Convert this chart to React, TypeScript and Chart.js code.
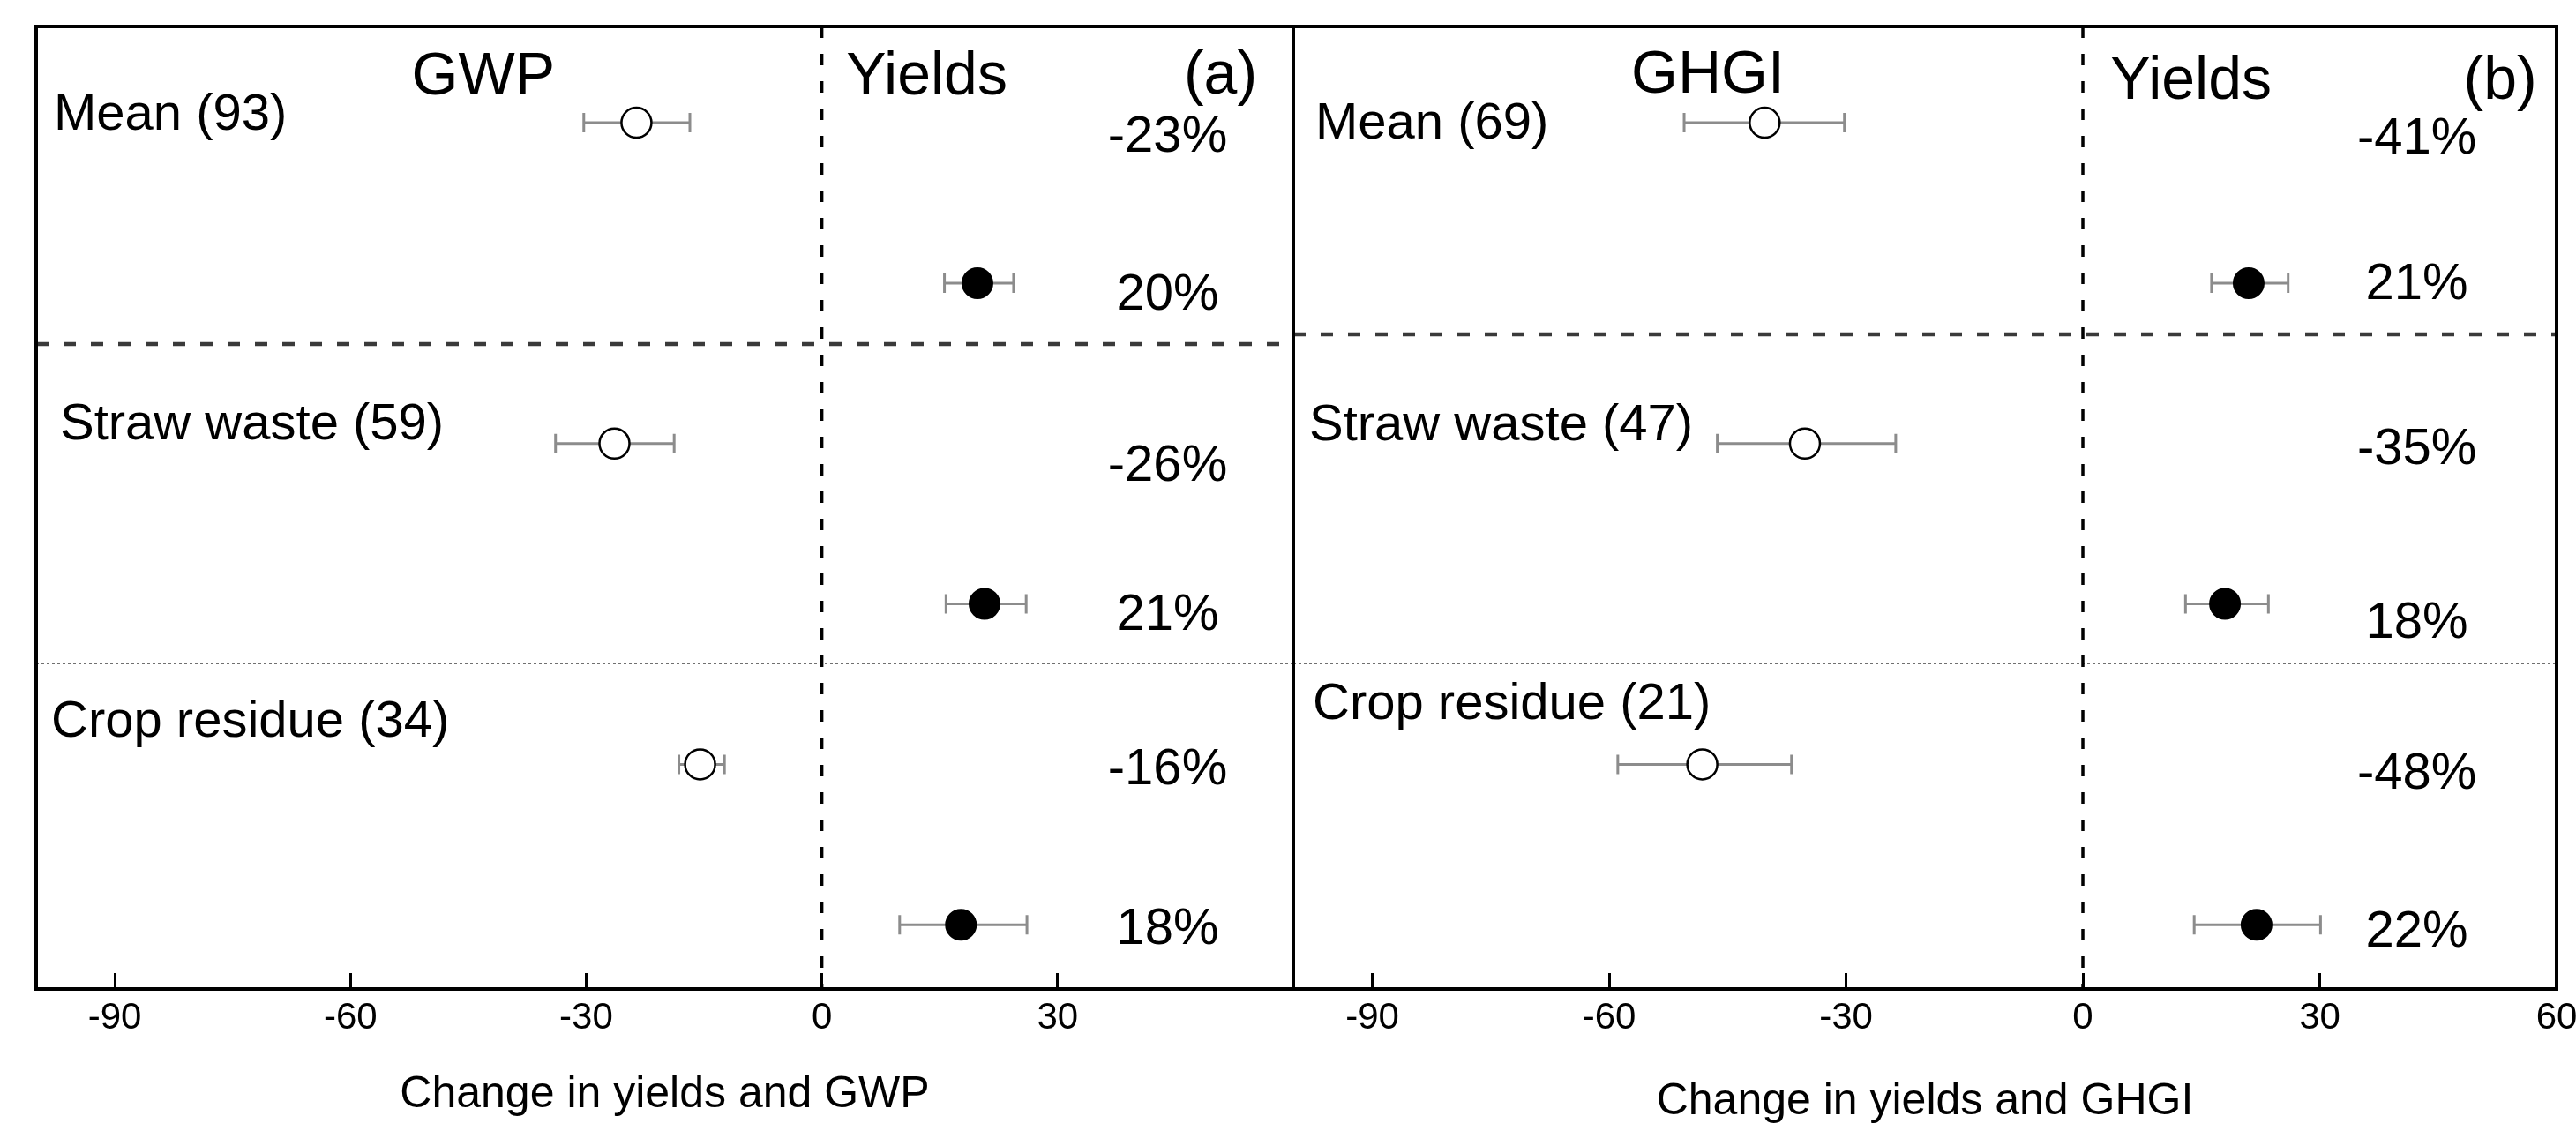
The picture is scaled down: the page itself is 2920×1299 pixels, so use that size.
import React, { useEffect, useRef } from 'react';
import { Chart, registerables } from 'chart.js';

Chart.register(...registerables);

const FONT = "'Liberation Sans', Arial, Helvetica, sans-serif";

// ---- data ----
const GROUPS = ['Mean', 'Straw waste', 'Crop residue'];
const ROW_EFFECT = [1, 3, 5];
const ROW_YIELD = [2, 4, 6];

const GWP_N = [93, 59, 34];
const GWP_MEAN = [-23.6, -26.4, -15.5];
const GWP_LO = [-30.3, -33.9, -18.2];
const GWP_HI = [-16.8, -18.8, -12.4];
const GWP_LABELS = ['-23%', '-26%', '-16%'];

const YIELD_A_MEAN = [19.8, 20.7, 17.7];
const YIELD_A_LO = [15.6, 15.8, 9.9];
const YIELD_A_HI = [24.4, 26.0, 26.1];
const YIELD_A_LABELS = ['20%', '21%', '18%'];

const GHGI_N = [69, 47, 21];
const GHGI_MEAN = [-40.3, -35.2, -48.2];
const GHGI_LO = [-50.5, -46.3, -58.9];
const GHGI_HI = [-30.2, -23.7, -36.9];
const GHGI_LABELS = ['-41%', '-35%', '-48%'];

const YIELD_B_MEAN = [21.0, 18.0, 22.0];
const YIELD_B_LO = [16.3, 13.0, 14.1];
const YIELD_B_HI = [26.0, 23.5, 30.1];
const YIELD_B_LABELS = ['21%', '18%', '22%'];

const X_TICKS_A = [-90, -60, -30, 0, 30];
const X_TICKS_B = [-90, -60, -30, 0, 30, 60];

const X_MIN = -100;
const X_MAX = 60;
const Y_MIN = 0.4;
const Y_MAX = 6.4;

type Panel = {
  effectName: string;
  tag: string;
  n: number[];
  mean: number[];
  lo: number[];
  hi: number[];
  effLabels: string[];
  yMean: number[];
  yLo: number[];
  yHi: number[];
  yLabels: string[];
  ticks: number[];
  xTitle: string;
  layout: {
    padding: { left: number; right: number; top: number; bottom: number };
    sep: number[];
    catDx: number[];
    catDy: number[];
    pctX: number;
    pctDy: number[];
    titleX: number[];
    titleY: number[];
    titlePad: number;
  };
};

const LEFT: Panel = {
  effectName: 'GWP',
  tag: '(a)',
  n: GWP_N,
  mean: GWP_MEAN,
  lo: GWP_LO,
  hi: GWP_HI,
  effLabels: GWP_LABELS,
  yMean: YIELD_A_MEAN,
  yLo: YIELD_A_LO,
  yHi: YIELD_A_HI,
  yLabels: YIELD_A_LABELS,
  ticks: X_TICKS_A,
  xTitle: 'Change in yields and GWP',
  layout: {
    padding: { left: 41, right: 14, top: 30, bottom: 0 },
    sep: [2.38, 4.37],
    catDx: [20, 27, 17],
    catDy: [-8, -21, -47],
    pctX: 44,
    pctDy: [17, 14, 26, 13, 7, 6],
    titleX: [-43.1, 3.1, 55.4],
    titleY: [88, 88, 87],
    titlePad: 28,
  },
};

const RIGHT: Panel = {
  effectName: 'GHGI',
  tag: '(b)',
  n: GHGI_N,
  mean: GHGI_MEAN,
  lo: GHGI_LO,
  hi: GHGI_HI,
  effLabels: GHGI_LABELS,
  yMean: YIELD_B_MEAN,
  yLo: YIELD_B_LO,
  yHi: YIELD_B_HI,
  yLabels: YIELD_B_LABELS,
  ticks: X_TICKS_B,
  xTitle: 'Change in yields and GHGI',
  layout: {
    padding: { left: 14, right: 22, top: 30, bottom: 0 },
    sep: [2.32, 4.37],
    catDx: [25, 18, 22],
    catDy: [2, -20, -67],
    pctX: 42.3,
    pctDy: [19, 2, 7, 22, 12, 9],
    titleX: [-47.5, 3.5, 57.5],
    titleY: [86, 93, 93],
    titlePad: 20,
  },
};

function makeDecor(p: Panel) {
  return {
    id: 'panelDecor',
    beforeDatasetsDraw(chart: any) {
      const { ctx, scales } = chart;
      const x = scales.x;
      const y = scales.y;
      ctx.save();
      ctx.strokeStyle = '#8c8c8c';
      ctx.lineWidth = 3;
      [0, 1].forEach((di) => {
        chart.data.datasets[di].data.forEach((d: any) => {
          const py = y.getPixelForValue(d.y);
          const x1 = x.getPixelForValue(d.lo);
          const x2 = x.getPixelForValue(d.hi);
          ctx.beginPath();
          ctx.moveTo(x1, py);
          ctx.lineTo(x2, py);
          ctx.moveTo(x1, py - 11);
          ctx.lineTo(x1, py + 11);
          ctx.moveTo(x2, py - 11);
          ctx.lineTo(x2, py + 11);
          ctx.stroke();
        });
      });
      ctx.restore();
    },
    afterDraw(chart: any) {
      const { ctx, chartArea: a, scales } = chart;
      const x = scales.x;
      const y = scales.y;
      const L = p.layout;
      ctx.save();
      ctx.strokeStyle = '#000';
      ctx.lineWidth = 4;
      ctx.strokeRect(a.left, a.top, a.right - a.left, a.bottom - a.top);

      ctx.fillStyle = '#000';
      ctx.textBaseline = 'middle';
      ctx.font = `58px ${FONT}`;
      ctx.textAlign = 'left';
      GROUPS.forEach((g, i) => {
        ctx.fillText(`${g} (${p.n[i]})`, a.left + L.catDx[i], y.getPixelForValue(ROW_EFFECT[i]) + L.catDy[i]);
      });
      ctx.textAlign = 'center';
      const px = x.getPixelForValue(L.pctX);
      p.effLabels.forEach((t, i) => {
        ctx.fillText(t, px, y.getPixelForValue(ROW_EFFECT[i]) + L.pctDy[2 * i]);
      });
      p.yLabels.forEach((t, i) => {
        ctx.fillText(t, px, y.getPixelForValue(ROW_YIELD[i]) + L.pctDy[2 * i + 1]);
      });

      ctx.font = `68px ${FONT}`;
      ctx.textAlign = 'center';
      ctx.fillText(p.effectName, x.getPixelForValue(L.titleX[0]), L.titleY[0]);
      ctx.textAlign = 'left';
      ctx.fillText('Yields', x.getPixelForValue(L.titleX[1]), L.titleY[1]);
      ctx.textAlign = 'right';
      ctx.fillText(p.tag, x.getPixelForValue(L.titleX[2]), L.titleY[2]);
      ctx.restore();
    },
  };
}

function buildConfig(p: Panel): any {
  const L = p.layout;
  const effPts = p.mean.map((m, i) => ({ x: m, y: ROW_EFFECT[i], lo: p.lo[i], hi: p.hi[i] }));
  const yPts = p.yMean.map((m, i) => ({ x: m, y: ROW_YIELD[i], lo: p.yLo[i], hi: p.yHi[i] }));
  const line = (data: any[], color: string, width: number, dash: number[]) => ({
    data,
    showLine: true,
    borderColor: color,
    borderWidth: width,
    borderDash: dash,
    pointRadius: 0,
    fill: false,
    order: 2,
  });
  return {
    type: 'scatter',
    data: {
      datasets: [
        {
          label: p.effectName,
          data: effPts,
          pointRadius: 17,
          pointBackgroundColor: '#fff',
          pointBorderColor: '#000',
          pointBorderWidth: 2.5,
          order: 0,
        },
        {
          label: 'Yields',
          data: yPts,
          pointRadius: 17,
          pointBackgroundColor: '#000',
          pointBorderColor: '#000',
          pointBorderWidth: 2,
          order: 0,
        },
        line([{ x: 0, y: Y_MIN }, { x: 0, y: Y_MAX }], '#000', 3.5, [13, 18]),
        line([{ x: X_MIN, y: L.sep[0] }, { x: X_MAX, y: L.sep[0] }], '#3a3a3a', 4.5, [14, 17]),
        line([{ x: X_MIN, y: L.sep[1] }, { x: X_MAX, y: L.sep[1] }], '#707070', 2, [3, 3]),
      ],
    },
    options: {
      animation: false,
      responsive: true,
      maintainAspectRatio: false,
      events: [],
      layout: { padding: L.padding, autoPadding: false },
      plugins: { legend: { display: false }, tooltip: { enabled: false } },
      scales: {
        x: {
          type: 'linear',
          min: X_MIN,
          max: X_MAX,
          afterBuildTicks: (s: any) => {
            s.ticks = p.ticks.map((v) => ({ value: v }));
          },
          afterFit: (s: any) => {
            s.height = 178;
            s.paddingLeft = 0;
            s.paddingRight = 0;
          },
          grid: {
            display: true,
            drawOnChartArea: false,
            drawTicks: true,
            tickLength: -18,
            color: '#000',
            lineWidth: 3,
          },
          border: { display: false },
          ticks: {
            padding: 26,
            color: '#000',
            font: { family: FONT, size: 42 },
            maxRotation: 0,
            autoSkip: false,
            callback: (v: any) => String(v),
          },
          title: {
            display: true,
            text: p.xTitle,
            color: '#000',
            font: { family: FONT, size: 50 },
            padding: { top: 0, bottom: L.titlePad },
          },
        },
        y: { type: 'linear', display: false, min: Y_MIN, max: Y_MAX, reverse: true },
      },
    },
    plugins: [makeDecor(p)],
  };
}

export default function App() {
  const leftRef = useRef<HTMLCanvasElement>(null);
  const rightRef = useRef<HTMLCanvasElement>(null);
  useEffect(() => {
    const c1 = new Chart(leftRef.current as HTMLCanvasElement, buildConfig(LEFT));
    const c2 = new Chart(rightRef.current as HTMLCanvasElement, buildConfig(RIGHT));
    return () => {
      c1.destroy();
      c2.destroy();
    };
  }, []);
  return (
    <div style={{ position: 'absolute', left: 0, top: 0, width: 2920, height: 1299, background: '#fff', overflow: 'hidden' }}>
      <div style={{ position: 'absolute', left: 0, top: 0, width: 1480, height: 1299 }}>
        <canvas ref={leftRef} />
      </div>
      <div style={{ position: 'absolute', left: 1452, top: 0, width: 1468, height: 1299 }}>
        <canvas ref={rightRef} />
      </div>
    </div>
  );
}
